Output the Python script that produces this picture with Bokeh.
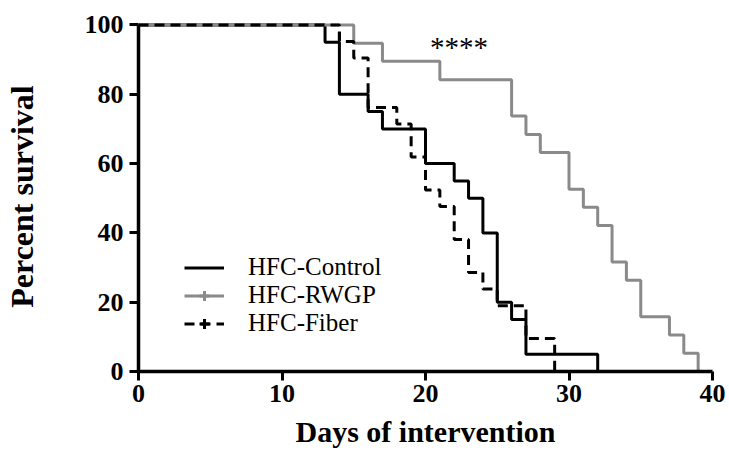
import numpy as np
from bokeh.plotting import figure
from bokeh.models import Range1d, FixedTicker, Legend, LegendItem, ColumnDataSource
from bokeh.core.properties import value
from bokeh.embed import file_html
from bokeh.resources import INLINE

# ---- data ----
control_days = [0, 13, 14, 16, 17, 20, 22, 23, 24, 25, 26, 27, 32]
control_surv = [100, 95, 80, 75, 70, 60, 55, 50, 40, 20, 15, 5, 0]

rwgp_days = [0, 15, 17, 21, 26, 27, 28, 30, 31, 32, 33, 34, 35, 37, 38, 39]
rwgp_surv = [100, 94.7, 89.5, 84.2, 73.7, 68.4, 63.2, 52.6, 47.4, 42.1, 31.6, 26.3, 15.8, 10.5, 5.3, 0]

fiber_days = [0, 14, 15, 16, 18, 19, 20, 21, 22, 23, 24, 25, 27, 29]
fiber_surv = [100, 95.2, 90.5, 76.2, 71.4, 61.9, 52.4, 47.6, 38.1, 28.6, 23.8, 19.0, 9.5, 0]

censor_days = [14]
censor_surv = [96.8]

x_ticks = [0, 10, 20, 30, 40]
y_ticks = [0, 20, 40, 60, 80, 100]

sig_text = ["****"]
sig_x = [22.33]
sig_y = [93.6]

series_names = ["HFC-Control", "HFC-RWGP", "HFC-Fiber"]

SERIF = "Liberation Serif"
GRAY = "#8a8a8a"

p = figure(width=729, height=450, x_range=Range1d(0, 40), y_range=Range1d(0, 101),
           output_backend="svg", toolbar_location=None,
           min_border_left=137, min_border_right=17, min_border_top=21, min_border_bottom=79)
p.xgrid.visible = False
p.ygrid.visible = False
p.outline_line_color = None
p.background_fill_color = "white"
p.border_fill_color = "white"

r_ctrl = p.step(control_days, control_surv, mode="after", line_color="black", line_width=3)
r_rwgp = p.step(rwgp_days, rwgp_surv, mode="after", line_color=GRAY, line_width=3)
r_fib = p.step(fiber_days, fiber_surv, mode="after", line_color="black", line_width=3,
               line_dash="10 6")
p.scatter(censor_days, censor_surv, marker="dash", angle=np.pi / 2, size=9,
          line_color="black", line_width=3)

# legend-only tick markers (censor symbols), placed outside the visible ranges
off1 = ColumnDataSource(data=dict(x=[-50], y=[-50]))
off2 = ColumnDataSource(data=dict(x=[-50], y=[-50]))
m_rwgp = p.scatter("x", "y", source=off1, marker="cross", size=10,
                   line_color=GRAY, line_width=3)
m_fib = p.scatter("x", "y", source=off2, marker="cross", size=10,
                  line_color="black", line_width=3)

p.text(x=sig_x, y=sig_y, text=sig_text, text_font=value(SERIF), text_font_size="29px",
       text_align="center", text_baseline="alphabetic", text_color="black")

for ax, ticks in ((p.xaxis[0], x_ticks), (p.yaxis[0], y_ticks)):
    ax.ticker = FixedTicker(ticks=ticks)
    ax.axis_line_width = 3.5
    ax.axis_line_color = "black"
    ax.major_tick_line_width = 3
    ax.major_tick_line_color = "black"
    ax.major_tick_in = 0
    ax.major_tick_out = 9
    ax.minor_tick_line_color = None
    ax.major_label_text_font = SERIF
    ax.major_label_text_font_style = "bold"
    ax.major_label_text_font_size = "26px"
    ax.major_label_text_color = "black"
    ax.axis_label_text_font = SERIF
    ax.axis_label_text_font_style = "bold"
    ax.axis_label_text_color = "black"

p.yaxis[0].bounds = (0, 100)
p.xaxis[0].major_label_standoff = 4
p.yaxis[0].major_label_standoff = 6
p.xaxis[0].axis_label = "Days of intervention"
p.xaxis[0].axis_label_text_font_size = "30px"
p.xaxis[0].axis_label_standoff = 10
p.yaxis[0].axis_label = "Percent survival"
p.yaxis[0].axis_label_text_font_size = "32px"
p.yaxis[0].axis_label_standoff = 42

legend = Legend(items=[
    LegendItem(label=series_names[0], renderers=[r_ctrl]),
    LegendItem(label=series_names[1], renderers=[r_rwgp, m_rwgp]),
    LegendItem(label=series_names[2], renderers=[r_fib, m_fib]),
], location=(46, 34), padding=0, margin=0, spacing=0,
    glyph_width=40, glyph_height=25, label_height=25, label_standoff=24,
    label_text_font=SERIF, label_text_font_size="25px", label_text_color="black",
    border_line_color=None, background_fill_alpha=0)
p.add_layout(legend, "center")

open("out.html", "w").write(file_html(p, INLINE))
